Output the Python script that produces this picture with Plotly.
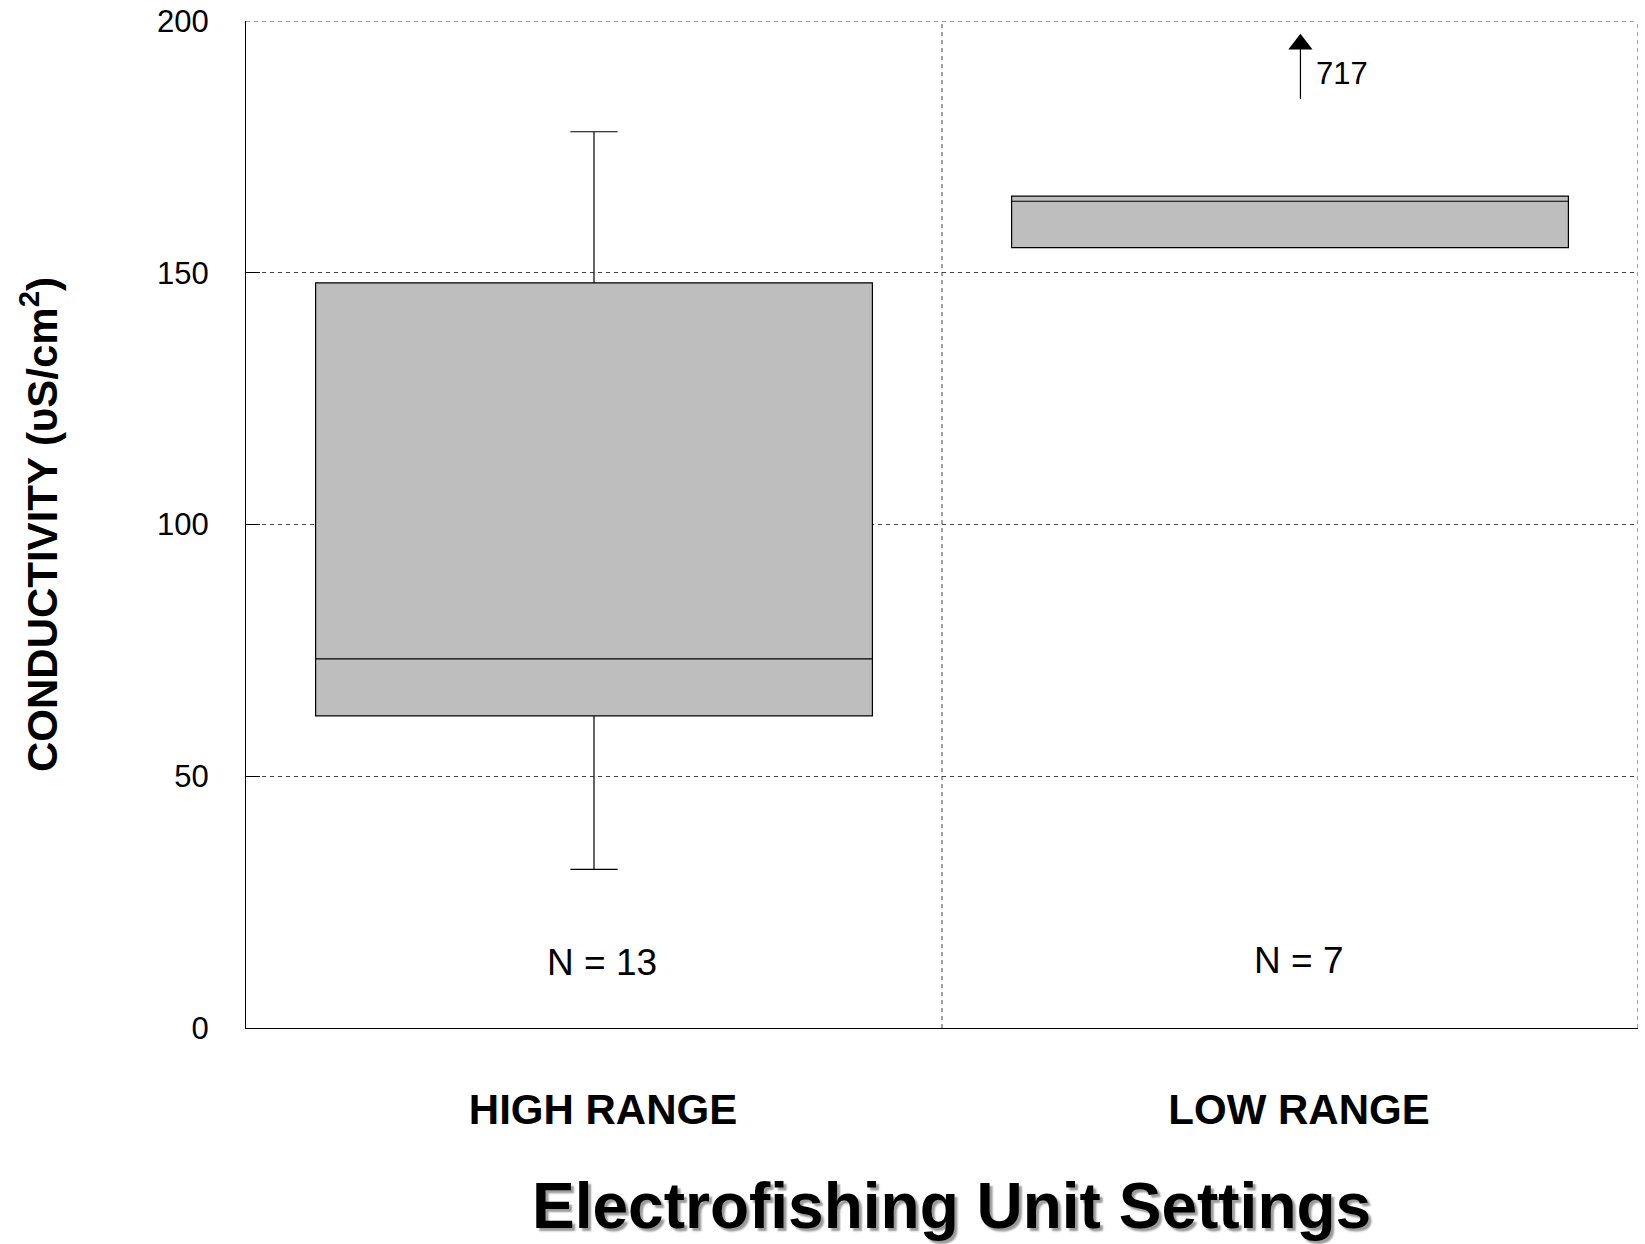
import plotly.graph_objects as go

categories = ["HIGH RANGE", "LOW RANGE"]
q1 = [62, 155]
median = [73.3, 164.2]
q3 = [148, 165.2]
lower_fence = [31.5, 155]
upper_fence = [178, 165.2]
n_labels = ["N = 13", "N = 7"]
n_label_y = [13, 13.5]
outlier_value = 717
outlier_arrow_x = [1.015, 1.015]
outlier_arrow_y = [184.5, 195.4]
y_ticks = [0, 50, 100, 150, 200]

FONT = "Arial, Liberation Sans"
x_pos = list(range(len(categories)))

fig = go.Figure()
fig.add_trace(go.Box(
    x=x_pos, q1=q1, median=median, q3=q3,
    lowerfence=lower_fence, upperfence=upper_fence,
    boxpoints=False, width=0.8, whiskerwidth=0.085,
    fillcolor="#bebebe", line=dict(color="black", width=1.2),
    showlegend=False, hoverinfo="skip"
))

# outlier arrow (shaft + head)
fig.add_trace(go.Scatter(
    x=outlier_arrow_x, y=outlier_arrow_y, mode="lines",
    line=dict(color="black", width=1.2), showlegend=False, hoverinfo="skip"
))
fig.add_trace(go.Scatter(
    x=[outlier_arrow_x[1]], y=[outlier_arrow_y[1]], mode="markers",
    marker=dict(symbol="triangle-up", size=21, color="black"),
    showlegend=False, hoverinfo="skip"
))

for xp, t, yy in zip(x_pos, n_labels, n_label_y):
    fig.add_annotation(x=xp, y=yy, text=t, showarrow=False, xref="x", yref="y",
                       xshift=8, font=dict(size=37, color="black", family=FONT))

fig.add_annotation(x=1.035, y=189.5, text=str(outlier_value), showarrow=False,
                   xanchor="left", xref="x", yref="y",
                   font=dict(size=31, color="black", family=FONT))

# x-axis title
fig.add_annotation(x=0.5068, y=-0.1768, xref="paper", yref="paper",
                   text="Electrofishing Unit Settings", showarrow=False,
                   xanchor="center", yanchor="middle",
                   font=dict(size=64, weight="bold", family=FONT, color="black",
                             shadow="3px 3px 2px #9a9a9a"))

# vertical divider, right and top borders (dashed)
dash_line = dict(color="#444", width=1, dash="4px,4px")
fig.add_shape(type="line", x0=0.5, x1=0.5, y0=0, y1=200, xref="x", yref="y",
              line=dash_line, layer="below")
fig.add_shape(type="line", x0=1.5, x1=1.5, y0=0, y1=200, xref="x", yref="y",
              line=dash_line, layer="below")
fig.add_shape(type="line", x0=-0.5, x1=1.5, y0=200, y1=200, xref="x", yref="y",
              line=dash_line, layer="below")

fig.update_layout(
    width=1645, height=1244,
    margin=dict(l=246, r=7, t=21, b=216, autoexpand=False),
    plot_bgcolor="white", paper_bgcolor="white",
    font=dict(family=FONT, color="black"),
)
fig.update_xaxes(
    range=[-0.5, 1.5], tickvals=x_pos, ticktext=categories,
    showgrid=False, zeroline=False, automargin=False,
    showline=True, linecolor="black", linewidth=1.2,
    ticks="", tickfont=dict(size=42, family=FONT, weight="bold"),
    ticklabelstandoff=44, ticklabelshift=9,
)
fig.update_yaxes(
    range=[0, 200], tickvals=y_ticks, showgrid=True, gridcolor="#444",
    griddash="4px,4px", gridwidth=1, zeroline=False, automargin=False,
    showline=True, linecolor="black", linewidth=1.2,
    ticks="inside", ticklen=14, tickcolor="black",
    tickfont=dict(size=31), ticklabelstandoff=30, ticklabeloverflow="allow",
    title=dict(text="CONDUCTIVITY (υS/cm<sup>2</sup>)", standoff=86,
               font=dict(size=42, weight="bold", family=FONT)),
)

fig.write_html("out.html", config={"displayModeBar": False},
               post_script="document.body.style.margin='0';")
